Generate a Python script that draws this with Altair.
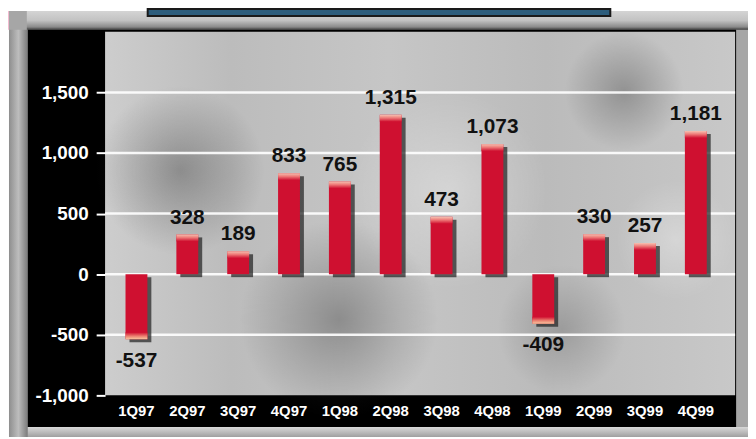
import altair as alt
import pandas as pd

quarters = ["1Q97", "2Q97", "3Q97", "4Q97", "1Q98", "2Q98",
            "3Q98", "4Q98", "1Q99", "2Q99", "3Q99", "4Q99"]
values = [-537, 328, 189, 833, 765, 1315, 473, 1073, -409, 330, 257, 1181]
y_ticks = [-1000, -500, 0, 500, 1000, 1500]
grid_values = [-500, 0, 500, 1000, 1500]

W, H = 616, 367

df = pd.DataFrame({"q": quarters, "v": values,
                   "label": [f"{v:,}" for v in values]})
grid_df = pd.DataFrame({"v": grid_values})
one = pd.DataFrame({"a": [0]})

FONT = "Liberation Sans"

x_enc = alt.X("q:N", sort=quarters, title=None,
              scale=alt.Scale(paddingInner=0.57, paddingOuter=0.285),
              axis=alt.Axis(labelColor="white", labelFont=FONT, labelFontSize=15,
                            labelFontWeight="bold", labelAngle=0, labelPadding=8,
                            ticks=False, domain=False, grid=False, zindex=2))
y_axis = alt.Axis(values=y_ticks,
                  labelExpr="replace(format(datum.value, ',.0f'), '\u2212', '-')",
                  labelColor="white",
                  labelFont=FONT, labelFontSize=19, labelFontWeight="bold",
                  labelPadding=8, tickColor="white", tickSize=9, tickWidth=2,
                  domain=False, grid=False, offset=6, labelFlush=False,
                  labelOverlap=False, zindex=2)
y_scale = alt.Scale(domain=[-1000, 2000], nice=False, zero=False)
y_enc = alt.Y("v:Q", title=None, scale=y_scale, axis=y_axis)


def box(x1, x2, y1, y2, **kw):
    return alt.Chart(one).mark_rect(**kw).encode(
        x=alt.value(x1), x2=alt.value(x2), y=alt.value(y1), y2=alt.value(y2))


def vgrad(stops, horizontal=False):
    return {"gradient": "linear", "x1": 0, "y1": 0,
            "x2": 1 if horizontal else 0, "y2": 0 if horizontal else 1,
            "stops": [{"offset": o, "color": c} for o, c in stops]}


def blob(cx, cy, r, rgb, alpha):
    g = {"gradient": "radial", "x1": 0.5, "y1": 0.5, "r1": 0,
         "x2": 0.5, "y2": 0.5, "r2": 0.5,
         "stops": [{"offset": 0, "color": f"rgba({rgb},{alpha})"},
                   {"offset": 0.5, "color": f"rgba({rgb},{alpha * 0.5})"},
                   {"offset": 1, "color": f"rgba({rgb},0)"}]}
    return box(cx - r, cx + r, cy - r, cy + r, color=g)


# decorative frame (pixel coords relative to the plot area)
pink_l = box(-104, -84, -21, -2, color=vgrad([(0, "#f4c0d4"), (1, "#d81a64")], True))
pink_r = box(632, 644, -21, -8, color=vgrad([(0, "#f0d0dc"), (1, "#e02a74")], True))
frame = box(-103, 644, -21, 409, color="#a6a6a6")
frame_top = box(-85, 644, -21, -2,
                color=vgrad([(0, "#d4d4d4"), (0.5, "#c2c2c2"), (0.85, "#8a8a8a"), (1, "#3a3a3a")]))
frame_left = box(-103, -84, -2, 409,
                 color=vgrad([(0, "#8e8e8e"), (0.5, "#bdbdbd"), (1, "#7a7a7a")], True))
frame_bottom = box(-84, 644, 399, 409,
                   color=vgrad([(0, "#d8d8d8"), (1, "#a0a0a0")]))
title_box = box(37, 504, -23, -16, color="#2d5d7c", stroke="#1a1a1a", strokeWidth=2)
black = box(-84, 631, -2, 399, color="#000000")
plot_bg = box(-6, 630, 0, H,
              color=vgrad([(0, "#cdcdcd"), (0.2, "#bcbcbc"), (0.45, "#c6c6c6"),
                           (0.7, "#bbbbbb"), (1, "#c8c8c8")], True))
blobs = [
    blob(70, 140, 85, "60,60,60", 0.40),
    blob(230, 290, 100, "60,60,60", 0.40),
    blob(518, 60, 60, "60,60,60", 0.35),
    blob(455, 300, 65, "60,60,60", 0.25),
    blob(340, 160, 100, "255,255,255", 0.30),
    blob(640 - 70, 210, 60, "255,255,255", 0.30),
]

grid = alt.Chart(grid_df).mark_rule(color="white", strokeWidth=2.5, opacity=0.9).encode(
    y=y_enc, x=alt.value(-6), x2=alt.value(630))

base = alt.Chart(df)
shadow = base.mark_bar(color="#2a2a2a", opacity=0.75, xOffset=4, yOffset=3).encode(
    x=x_enc, y=y_enc)
bars = base.mark_bar(color="#cf1030").encode(x=x_enc, y=y_enc)
cap_pos = base.transform_filter(alt.datum.v > 0).mark_bar(
    y2Offset=7,
    color=vgrad([(0, "#f6c0b0"), (0.45, "#ee7a78"), (1, "#cf1030")])).encode(
    x=x_enc, y=y_enc, y2=alt.Y2("v:Q"))
cap_neg = base.transform_filter(alt.datum.v < 0).mark_bar(
    y2Offset=-7,
    color=vgrad([(0, "#cf1030"), (0.55, "#ec8070"), (1, "#f8c8a0")])).encode(
    x=x_enc, y=y_enc, y2=alt.Y2("v:Q"))
lab_pos = base.transform_filter(alt.datum.v > 0).mark_text(
    font=FONT, fontSize=21, fontWeight="bold", color="#111111",
    baseline="alphabetic", dy=-11).encode(x=x_enc, y=y_enc, text="label:N")
lab_neg = base.transform_filter(alt.datum.v < 0).mark_text(
    font=FONT, fontSize=21, fontWeight="bold", color="#111111",
    baseline="alphabetic", dy=28).encode(x=x_enc, y=y_enc, text="label:N")

chart = alt.layer(
    pink_l, pink_r, frame, frame_top, frame_left, frame_bottom, title_box, black,
    plot_bg, *blobs, grid, shadow, bars, cap_pos, cap_neg, lab_pos, lab_neg
).properties(
    width=W, height=H, autosize="none",
    padding={"left": 104, "top": 22, "right": 27, "bottom": 41},
    background="white"
).configure_view(stroke=None)

chart.save("out.html", embed_options={"renderer": "svg", "actions": False})
